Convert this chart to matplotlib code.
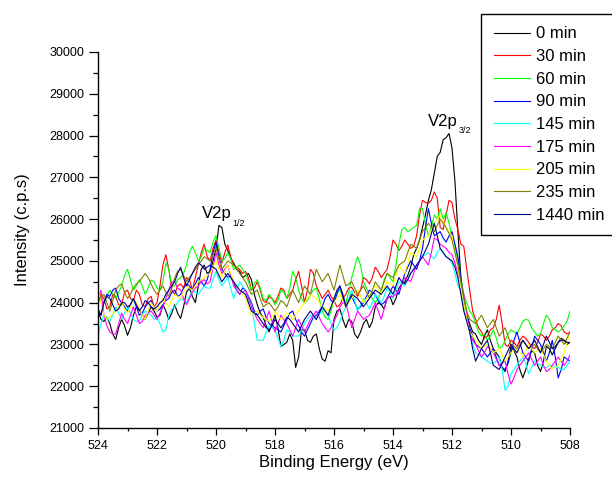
import numpy as np
import matplotlib
matplotlib.use("Agg")
import matplotlib.pyplot as plt
from matplotlib.ticker import MultipleLocator

plt.rcParams['font.family'] = ['Liberation Sans', 'DejaVu Sans']

# binding energy grid, 0.1 eV steps from 524 down to 508
energy = np.round(np.arange(524.0, 507.95, -0.1), 1)

labels = ['0 min', '30 min', '60 min', '90 min', '145 min',
          '175 min', '205 min', '235 min', '1440 min']
colors = ['#000000', '#FF0000', '#00FF00', '#0000FF', '#00FFFF',
          '#FF00FF', '#FFFF00', '#808000', '#000080']

# counts per second; first row 524.0-523.0 eV, then 1 eV per row
t0 = [23800, 23600, 23550, 23650, 23500, 23250, 23120, 23400, 23600, 23450, 23220,
      23400, 23700, 23900, 23850, 23700, 23600, 23750, 23900, 23800, 23650,
      23700, 23950, 23800, 23600, 23750, 23950, 23750, 23620, 23900, 24250,
      24350, 24150, 24000, 24400, 24800, 24900, 24700, 24750, 25000, 25300,
      25850, 25800, 25400, 25250, 25050, 24950, 24800, 24750, 24600, 24650,
      24700, 24550, 24200, 23950, 23750, 23650, 23450, 23300, 23500, 23700,
      23400, 22950, 23000, 23050, 23250, 23100, 22450, 22700, 23350, 23350,
      23100, 23050, 23200, 23250, 22900, 22650, 22600, 22850, 22800, 23600,
      23800, 23850, 23600, 23400, 23600, 23550, 23250, 23150, 23300, 23500,
      23600, 23400, 23550, 23900, 24000, 23950, 23850, 24100, 24150, 23950,
      24100, 24350, 24450, 24500, 24650, 24850, 25150, 25300, 25500, 25800,
      26100, 26450, 26700, 27100, 27500, 27600, 27900, 27950, 28050, 27700,
      26900, 25700, 24600, 24100, 23700, 23500, 23300, 23250, 23100, 23000,
      23200, 23350, 23100, 22900, 22800, 22700, 22450, 22350, 22600, 22950,
      22850, 22700, 22400, 22200, 22400, 22650, 22850, 22800, 22500, 22350,
      22600, 22950, 22900, 22750, 22900, 23050, 23150, 23100, 23000, 23050]

t30 = [24000, 24200, 24100, 23850, 23900, 24200, 24150, 23950, 23950, 24250, 24300,
       24100, 24050, 24300, 24200, 23950, 23900, 24100, 24150, 23900, 24000,
       24400, 24900, 25150, 24800, 24300, 24200, 24400, 24450, 24350, 24600,
       24550, 24300, 24600, 24900, 25200, 25400, 25100, 25000, 25300, 25500,
       25200, 24950, 25200, 25380, 25100, 24900, 24850, 24800, 24700, 24750,
       24600, 24300, 24350, 24500, 24300, 24050, 24000, 24150, 24100, 24000,
       24150, 24350, 24300, 24100, 24200, 24300, 24550, 24750, 24400, 24000,
       24300, 24800, 24700, 24400, 24250, 24100, 24200, 24300, 24150, 24050,
       23900, 23950, 24100, 24200, 24350, 24370, 24250, 24150, 24300, 24600,
       24550, 24450, 24600, 24850, 24750, 24600, 24700, 24800, 25100, 25500,
       25400, 25250, 25350, 25500, 25400, 25300, 25350, 25600, 26100, 26450,
       26400, 26380, 26450, 26650, 26500, 25800, 25750, 26100, 26450, 26400,
       26000, 25750, 25400, 25350, 24800, 24300, 23800, 23600, 23400, 23300,
       23150, 23200, 23350, 23400, 23600, 23940, 23500, 23000, 22950, 23100,
       23050, 22950, 23100, 23200, 23150, 23050, 22950, 22900, 23050, 23250,
       23200, 23100, 23200, 23350, 23400, 23500, 23450, 23300, 23250, 23300]

t60 = [24200, 24100, 24000, 24150, 24300, 24200, 24100, 24250, 24400, 24650, 24800,
       24550, 24300, 24400, 24550, 24400, 24200, 24350, 24540, 24500, 24350,
       24300, 24500, 24950, 24800, 24400, 24400, 24550, 24600, 24700, 24900,
       25200, 25350, 25200, 25000, 25100, 25300, 25250, 25200, 25450, 25600,
       25300, 25000, 25050, 25200, 25050, 24800, 24850, 24900, 24800, 24700,
       24500, 24300, 24450, 24550, 24350, 24100, 24050, 24200, 24100, 23950,
       24050, 24300, 24250, 24100, 24350, 24750, 24600, 24300, 24100, 24000,
       24050, 24200, 24300, 24350, 24100, 23800, 23650, 23600, 23800, 24100,
       24250, 24300, 24150, 24000, 24250, 24600, 24850, 25100, 24900, 24500,
       24350, 24200, 24100, 24000, 24100, 24300, 24550, 24700, 24600, 24500,
       24900, 25400, 25750, 25800, 25700, 25750, 25800, 25850, 26250, 26250,
       25900, 25600, 25800, 26100, 26000, 26250, 26000, 26150, 25900, 25600,
       25350, 25000, 24600, 24200, 24000, 23800, 23700, 23500, 23300, 23200,
       23250, 23100, 23200, 23350, 23150, 22900, 22950, 23100, 23250, 23350,
       23300, 23250, 23400, 23550, 23600, 23580, 23400, 23300, 23200, 23250,
       23500, 23700, 23600, 23400, 23350, 23300, 23350, 23450, 23550, 23800]

t90 = [23850, 23700, 24000, 24200, 24150, 24300, 24350, 24100, 24000, 23900, 23800,
       23950, 24100, 23900, 23700, 23750, 23900, 24000, 24050, 23900, 23800,
       23850, 23950, 24050, 24100, 24250, 24300, 24150, 24200, 24350, 24450,
       24400, 24300, 24450, 24600, 24500, 24400, 24550, 24800, 25200, 25450,
       25100, 24800, 24700, 24600, 24650, 24500, 24300, 24200, 24350, 24300,
       24150, 24000, 23800, 23700, 23800, 23850, 23650, 23500, 23450, 23400,
       23350, 23300, 23450, 23600, 23750, 23800, 23600, 23450, 23300, 23200,
       23350, 23500, 23650, 23700, 23800, 23900, 24100, 24200, 24050, 24000,
       24200, 24400, 24200, 23900, 24000, 24150, 24000, 23850, 23900, 24000,
       24150, 24300, 24250, 24200, 24050, 23950, 24000, 24100, 24250, 24400,
       24300, 24200, 24450, 24700, 24850, 25000, 24900, 24800, 25000, 25300,
       25800, 26250, 25900, 25600, 25650, 25700, 25550, 25450, 25600, 25700,
       25400, 25100, 24600, 24000, 23700, 23400, 23200, 23000, 22950, 22900,
       22800, 22700, 22800, 22900, 22700, 22500, 22450, 22400, 22550, 22800,
       23100, 23300, 23050, 22800, 22700, 22600, 22900, 23200, 23100, 23000,
       22800, 22600, 22800, 23100, 22700, 22200, 22400, 22700, 22650, 22600]

t145 = [23200, 23500, 23700, 23650, 23550, 23700, 23900, 23750, 23600, 23750, 23900,
        23750, 23600, 23550, 23550, 23700, 23800, 23750, 23700, 23600, 23650,
        23500, 23300, 23350, 23700, 23850, 23900, 24000, 24100, 24050, 24000,
        24150, 24300, 24250, 24200, 24300, 24400, 24350, 24350, 24550, 24750,
        24550, 24400, 24500, 24600, 24350, 24100, 24300, 24500, 24400, 24300,
        24100, 23950, 23500, 23100, 23100, 23100, 23300, 23450, 23400, 23350,
        23150, 22950, 23100, 23350, 23300, 23200, 23200, 23200, 23350, 23500,
        23600, 23700, 23650, 23600, 23700, 23850, 23800, 23700, 23500, 23350,
        23400, 23550, 23750, 23900, 24100, 24300, 24050, 23800, 23950, 24100,
        24000, 23850, 24000, 24200, 24100, 24000, 24150, 24350, 24250, 24100,
        24300, 24500, 24450, 24400, 24550, 24700, 24800, 24900, 25000, 25100,
        25150, 25200, 25100, 25050, 25200, 25300, 25200, 25100, 25050, 24950,
        24700, 24400, 24300, 23900, 23600, 23300, 23000, 22800, 22750, 22700,
        22650, 22600, 22550, 22550, 22600, 22700, 22400, 21900, 22000, 22300,
        22400, 22500, 22600, 22700, 22550, 22300, 22450, 22600, 22550, 22500,
        22450, 22450, 22500, 22500, 22450, 22450, 22400, 22400, 22500, 22600]

t175 = [24100, 24300, 23700, 23450, 23300, 23250, 23250, 23500, 23750, 23600, 23500,
        23700, 23900, 23700, 23500, 23550, 23700, 23750, 23800, 23700, 23600,
        23750, 23900, 24100, 24300, 24500, 24500, 24350, 24300, 24100, 23950,
        24100, 24250, 24350, 24400, 24500, 24550, 24450, 24500, 24850, 25200,
        24900, 24700, 24800, 24900, 24650, 24400, 24300, 24200, 24250, 24300,
        24100, 23900, 23750, 23600, 23500, 23400, 23600, 23800, 23550, 23300,
        23500, 23700, 23600, 23500, 23350, 23200, 23400, 23600, 23450, 23300,
        23450, 23600, 23700, 23800, 23650, 23500, 23400, 23300, 23400, 23550,
        23700, 23900, 24000, 24000, 23700, 23400, 23600, 23800, 23700, 23600,
        23650, 23700, 23850, 24000, 23800, 23600, 23850, 24100, 24150, 24150,
        24200, 24300, 24450, 24600, 24550, 24500, 24700, 24900, 25000, 25100,
        25000, 24900, 25200, 25550, 25500, 25400, 25350, 25300, 25200, 25150,
        24950, 24700, 24450, 24200, 23700, 23300, 23100, 23000, 22850, 22700,
        22800, 22950, 22900, 22800, 22650, 22500, 22550, 22600, 22300, 22050,
        22200, 22400, 22500, 22600, 22700, 22800, 22650, 22500, 22600, 22700,
        22500, 22350, 22400, 22500, 22600, 22700, 22600, 22500, 22600, 22750]

t205 = [24350, 24000, 23700, 23600, 23650, 23750, 23800, 23900, 24000, 23850, 23750,
        23900, 24100, 24000, 23900, 23700, 23600, 23800, 24000, 23900, 23800,
        23950, 24100, 24000, 23900, 24050, 24200, 24150, 24100, 24250, 24400,
        24350, 24300, 24400, 24500, 24550, 24600, 24650, 24700, 24850, 25000,
        24800, 24600, 24750, 24900, 24700, 24500, 24400, 24300, 24200, 24100,
        23900, 23700, 23750, 23800, 23700, 23650, 23600, 23550, 23650, 23800,
        23700, 23600, 23650, 23750, 23700, 23600, 23700, 23800, 23900, 24000,
        24100, 24200, 24150, 24100, 24000, 23900, 23850, 23800, 23900, 24000,
        24100, 24200, 24050, 23900, 24000, 24100, 24200, 24300, 24150, 24000,
        24100, 24200, 24300, 24400, 24300, 24200, 24350, 24500, 24450, 24400,
        24650, 24900, 24800, 24700, 24950, 25200, 25150, 25100, 25300, 25500,
        25550, 25600, 25750, 25900, 26000, 26100, 25950, 25800, 25700, 25600,
        25200, 24800, 24400, 24000, 23600, 23300, 23200, 23100, 23000, 22900,
        22950, 23000, 22900, 22800, 22850, 22900, 22750, 22600, 22700, 22800,
        22850, 22900, 22800, 22700, 22850, 23000, 22900, 22800, 22850, 22900,
        22750, 22600, 22500, 22400, 22450, 22500, 22650, 22800, 23050, 23300]

t235 = [24000, 24150, 24200, 24000, 23800, 24050, 24300, 24400, 24450, 24250, 24100,
        24200, 24350, 24450, 24500, 24600, 24700, 24600, 24450, 24300, 24200,
        24300, 24400, 24250, 24150, 24350, 24600, 24750, 24800, 24650, 24500,
        24600, 24700, 24800, 24900, 25000, 25100, 25050, 25000, 25150, 25300,
        25050, 24800, 24900, 25000, 24950, 24900, 24800, 24700, 24600, 24500,
        24350, 24200, 24250, 24300, 24100, 23900, 23950, 24000, 23900, 23800,
        23900, 24050, 24000, 23900, 24100, 24300, 24150, 24000, 24200, 24400,
        24300, 24200, 24500, 24800, 24650, 24500, 24600, 24700, 24500, 24300,
        24600, 24900, 24650, 24400, 24450, 24500, 24350, 24200, 24300, 24400,
        24250, 24100, 24300, 24500, 24400, 24300, 24500, 24700, 24650, 24600,
        24750, 24900, 24950, 25000, 25200, 25400, 25350, 25300, 25500, 25700,
        25800, 25900, 25800, 25700, 25850, 26000, 25900, 25800, 25650, 25500,
        25200, 24900, 24500, 24100, 23800, 23600, 23550, 23500, 23600, 23700,
        23550, 23400, 23500, 23600, 23400, 23200, 23300, 23400, 23200, 23000,
        22950, 22900, 23000, 23100, 23000, 22900, 22950, 23000, 22900, 22800,
        22900, 23000, 22950, 22900, 23050, 23200, 23100, 23000, 23150, 23300]

t1440 = [23800, 23700, 24000, 24150, 24100, 23950, 23800, 23850, 24000, 24000, 23900,
         23950, 24100, 23950, 23800, 23900, 24050, 24000, 23900, 23850, 23900,
         24000, 24050, 24200, 24300, 24400, 24500, 24700, 24850, 24600, 24400,
         24550, 24700, 24850, 24950, 24900, 24800, 24850, 24900, 24850, 24800,
         24650, 24500, 24600, 24700, 24600, 24500, 24400, 24300, 24250, 24200,
         24000, 23800, 23750, 23700, 23600, 23500, 23400, 23350, 23450, 23600,
         23500, 23400, 23500, 23650, 23600, 23500, 23400, 23300, 23450, 23600,
         23700, 23800, 23700, 23600, 23750, 23900, 23800, 23700, 23900, 24100,
         24300, 24400, 24150, 23900, 24050, 24200, 24150, 24100, 24000, 23900,
         24000, 24100, 24200, 24300, 24250, 24200, 24300, 24400, 24300, 24200,
         24400, 24600, 24500, 24450, 24550, 24700, 24800, 24900, 25000, 25100,
         25250, 25400, 25650, 25900, 25600, 25300, 25200, 25100, 25050, 25000,
         24850, 24600, 24200, 23800, 23550, 23300, 22900, 22600, 22750, 22900,
         23000, 23100, 22800, 22500, 22450, 22400, 22550, 22700, 22850, 23000,
         22900, 22800, 22950, 23100, 23000, 22900, 23000, 23100, 22950, 22800,
         23000, 23200, 23050, 22900, 22950, 23050, 23100, 23100, 23050, 23050]

spectra = [t0, t30, t60, t90, t145, t175, t205, t235, t1440]

fig = plt.figure(figsize=(6.12, 4.84), dpi=100)
ax = fig.add_axes([98 / 612, 56 / 484, 472 / 612, 376 / 484])

for counts, name, col in zip(spectra, labels, colors):
    ax.plot(energy, counts, color=col, lw=0.8, label=name)

ax.set_xlim(524, 508)
ax.set_ylim(21000, 30000)
ax.xaxis.set_major_locator(MultipleLocator(2))
ax.xaxis.set_minor_locator(MultipleLocator(1))
ax.yaxis.set_major_locator(MultipleLocator(1000))
ax.yaxis.set_minor_locator(MultipleLocator(500))
ax.tick_params(which='both', direction='out', width=0.9, labelsize=9)
ax.tick_params(axis='x', which='major', length=5)
ax.tick_params(axis='x', which='minor', length=2.5)
ax.tick_params(axis='y', which='major', length=6.5)
ax.tick_params(axis='y', which='minor', length=3.3)
for side in ('top', 'right'):
    ax.spines[side].set_visible(False)
for side in ('left', 'bottom'):
    ax.spines[side].set_linewidth(1.0)

ax.set_xlabel('Binding Energy (eV)', fontsize=12)
ax.set_ylabel('Intensity (c.p.s)', fontsize=12)
ax.xaxis.set_label_coords(0.5, -0.072)
ax.yaxis.set_label_coords(-0.145, 0.527)

# peak labels with small subscripts
ax.text(520.49, 26019, 'V2p', fontsize=12, ha='left', va='baseline')
ax.annotate('1/2', xy=(520.49, 26019), xytext=(22.3, -5.5),
            textcoords='offset points', fontsize=6.5, ha='left', va='baseline')
ax.text(512.82, 28238, 'V2p', fontsize=12, ha='left', va='baseline')
ax.annotate('3/2', xy=(512.82, 28238), xytext=(22.3, -5.5),
            textcoords='offset points', fontsize=6.5, ha='left', va='baseline')

leg = ax.legend(loc='upper left', bbox_to_anchor=(481 / 612, 1 - 14 / 484),
                bbox_transform=fig.transFigure, fontsize=12, frameon=True,
                fancybox=False, borderpad=0.75, labelspacing=0.46,
                handlelength=2.2, handletextpad=0.35, borderaxespad=0)
leg.get_frame().set_edgecolor('black')
leg.get_frame().set_linewidth(1.0)
leg.get_frame().set_alpha(1)

fig.savefig('out.png', dpi=100)
